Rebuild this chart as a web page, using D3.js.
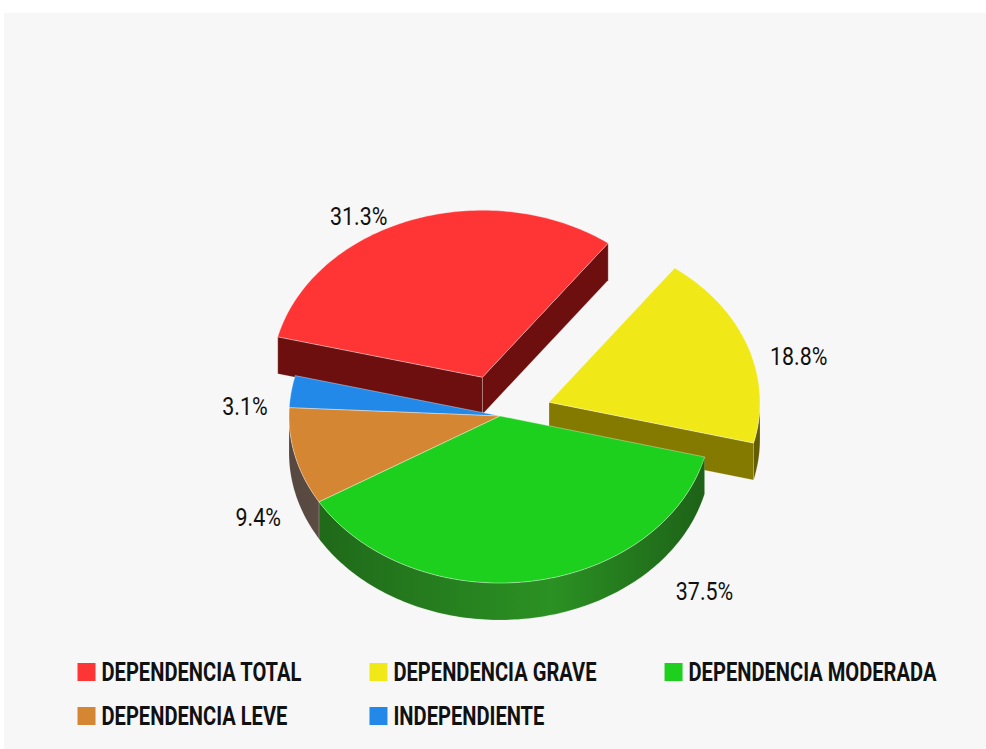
<!DOCTYPE html>
<html>
<head>
<meta charset="utf-8">
<script src="https://cdn.jsdelivr.net/npm/d3@7"></script>
<style>
html, body { margin: 0; padding: 0; background: #fff; }
svg { display: block; font-family: Roboto, "Noto Sans", sans-serif; }
</style>
</head>
<body>
<script>
// data
var categories = ['DEPENDENCIA TOTAL', 'DEPENDENCIA GRAVE', 'DEPENDENCIA MODERADA', 'DEPENDENCIA LEVE', 'INDEPENDIENTE'];
var values = [31.3, 18.8, 37.5, 9.4, 3.1];
var sliced = [true, true, false, false, false];

// styles
var topColors = ['#fe3435', '#f0e817', '#1dd01d', '#d58632', '#2389e8'];
var sideColors = ['#6d0f0f', '#857a00', '#26801f', '#6e5d52', '#1c5a9a'];

var width = 986, height = 749;
var cx = 500, cy = 416, rx = 211, ry = 167, depth = 37, explode = 52;
var startDeg = 284; // d3 pie angle, 0 = 12 o'clock
var squash = ry / rx;

var svg = d3.select('body').append('svg')
    .attr('width', width)
    .attr('height', height);

// light panel
svg.append('rect')
    .attr('x', 4).attr('y', 13)
    .attr('width', width - 4).attr('height', height - 13)
    .attr('fill', '#f7f7f7');

var defs = svg.append('defs');

var pie = d3.pie().sort(null)
    .startAngle(startDeg * Math.PI / 180)
    .endAngle(startDeg * Math.PI / 180 + 2 * Math.PI);
var arcs = pie(values);

var line = d3.line();

// point on the (squashed) pie for angle t, offset and height
function pt(t, ox, oy, z) {
    return [cx + ox + rx * Math.cos(t), cy + oy + ry * Math.sin(t) + z];
}
function arcPts(t0, t1, ox, oy, z) {
    var n = Math.max(2, Math.ceil(Math.abs(t1 - t0) * 180 / Math.PI));
    return d3.range(n + 1).map(function(k) {
        return pt(t0 + (t1 - t0) * k / n, ox, oy, z);
    });
}

// geometry for every slice
var slices = arcs.map(function(a, i) {
    var t0 = a.startAngle - Math.PI / 2,
        t1 = a.endAngle - Math.PI / 2,
        mid = (t0 + t1) / 2;
    return {
        i: i, t0: t0, t1: t1, mid: mid,
        ox: sliced[i] ? explode * Math.cos(mid) : 0,
        oy: sliced[i] ? explode * Math.sin(mid) * squash : 0
    };
});

// gradients for the outer walls
slices.forEach(function(s) {
    var base = d3.color(sideColors[s.i]);
    var g = defs.append('linearGradient')
        .attr('id', 'side' + s.i)
        .attr('gradientUnits', 'userSpaceOnUse')
        .attr('x1', cx - rx).attr('x2', cx + rx)
        .attr('y1', 0).attr('y2', 0);
    g.append('stop').attr('offset', 0).attr('stop-color', base.darker(0.7));
    g.append('stop').attr('offset', 0.62).attr('stop-color', base.brighter(0.35));
    g.append('stop').attr('offset', 1).attr('stop-color', base.darker(0.8));
});

// back slices first
var order = slices.slice().sort(function(a, b) {
    return Math.sin(a.mid) - Math.sin(b.mid);
});

var pieG = svg.append('g');
order.forEach(function(s) {
    var g = pieG.append('g');
    var apexTop = [cx + s.ox, cy + s.oy], apexBot = [cx + s.ox, cy + s.oy + depth];

    // radial faces (only visible when the slice is pulled out)
    if (sliced[s.i]) {
        [[s.t0, Math.cos(s.t0) < 0], [s.t1, Math.cos(s.t1) > 0]].forEach(function(f) {
            if (!f[1]) return;
            var poly = [apexTop, pt(f[0], s.ox, s.oy, 0), pt(f[0], s.ox, s.oy, depth), apexBot];
            g.append('path')
                .attr('d', line(poly) + 'Z')
                .attr('fill', sideColors[s.i])
                .attr('stroke', 'rgba(255,255,255,0.3)')
                .attr('stroke-width', 0.8);
        });
    }

    // outer wall, front half only
    [0, 2 * Math.PI, 4 * Math.PI].forEach(function(k) {
        var a0 = Math.max(s.t0, k), a1 = Math.min(s.t1, k + Math.PI);
        if (a0 >= a1) return;
        var poly = arcPts(a0, a1, s.ox, s.oy, 0).concat(arcPts(a1, a0, s.ox, s.oy, depth));
        g.append('path')
            .attr('d', line(poly) + 'Z')
            .attr('fill', 'url(#side' + s.i + ')')
            .attr('stroke', 'rgba(255,255,255,0.25)')
            .attr('stroke-width', 0.6);
    });

    // top face
    var topPoly = [apexTop].concat(arcPts(s.t0, s.t1, s.ox, s.oy, 0));
    g.append('path')
        .attr('d', line(topPoly) + 'Z')
        .attr('fill', topColors[s.i])
        .attr('stroke', 'rgba(255,255,255,0.45)')
        .attr('stroke-width', 0.8);
});

// condensed text: squeeze horizontally around its anchor
function condense(t, x, y, k) {
    t.attr('x', 0).attr('y', 0)
        .attr('transform', 'translate(' + x + ',' + y + ') scale(' + k + ',1)');
}

// data labels
var fmt = d3.format('.1f');
var labelR = rx + 30, lift = 18, pad = -7, labelMaxY = cy + ry + depth - 29;
var labelFont = 25.5, labelSquash = 0.84;
slices.forEach(function(s) {
    var sn = Math.sin(s.mid), left = Math.cos(s.mid) < 0;
    var y = cy + s.oy + labelR * sn * squash + lift + (sn > 0 ? depth : 0);
    y = Math.min(y, labelMaxY);
    var dy = y - cy - lift;
    var x = cx + s.ox + (left ? -1 : 1) * (Math.sqrt(Math.max(0, labelR * labelR - dy * dy)) + pad);
    var t = svg.append('text')
        .attr('text-anchor', left ? 'end' : 'start')
        .attr('font-size', labelFont)
        .attr('fill', '#111')
        .text(fmt(values[s.i]) + '%');
    condense(t, x, y + labelFont * 0.355, labelSquash);
});

// legend
var legendTop = 663, rowH = 44, box = 18, textGap = 24, itemGap = 68, perRow = 3;
var legendFont = 25, legendSquash = 0.805, legendCenter = 507;
var legend = svg.append('g');
var items = categories.map(function(c, i) {
    var t = legend.append('text')
        .attr('font-size', legendFont)
        .attr('font-weight', 700)
        .attr('fill', '#111')
        .text(c);
    var w = t.node().getComputedTextLength() * legendSquash;
    return { t: t, w: textGap + w, col: i % perRow, row: Math.floor(i / perRow) };
});
var colW = d3.range(perRow).map(function(c) {
    return d3.max(items.filter(function(d) { return d.col === c; }), function(d) { return d.w; });
});
var totalW = d3.sum(colW) + itemGap * (perRow - 1);
var colX = [], acc = legendCenter - totalW / 2;
colW.forEach(function(w) { colX.push(acc); acc += w + itemGap; });

items.forEach(function(d, i) {
    var x0 = colX[d.col], base = legendTop + d.row * rowH + box;
    legend.append('rect')
        .attr('x', x0).attr('y', base - box)
        .attr('width', box).attr('height', box)
        .attr('fill', topColors[i]);
    condense(d.t, x0 + textGap, base, legendSquash);
});
</script>
</body>
</html>
